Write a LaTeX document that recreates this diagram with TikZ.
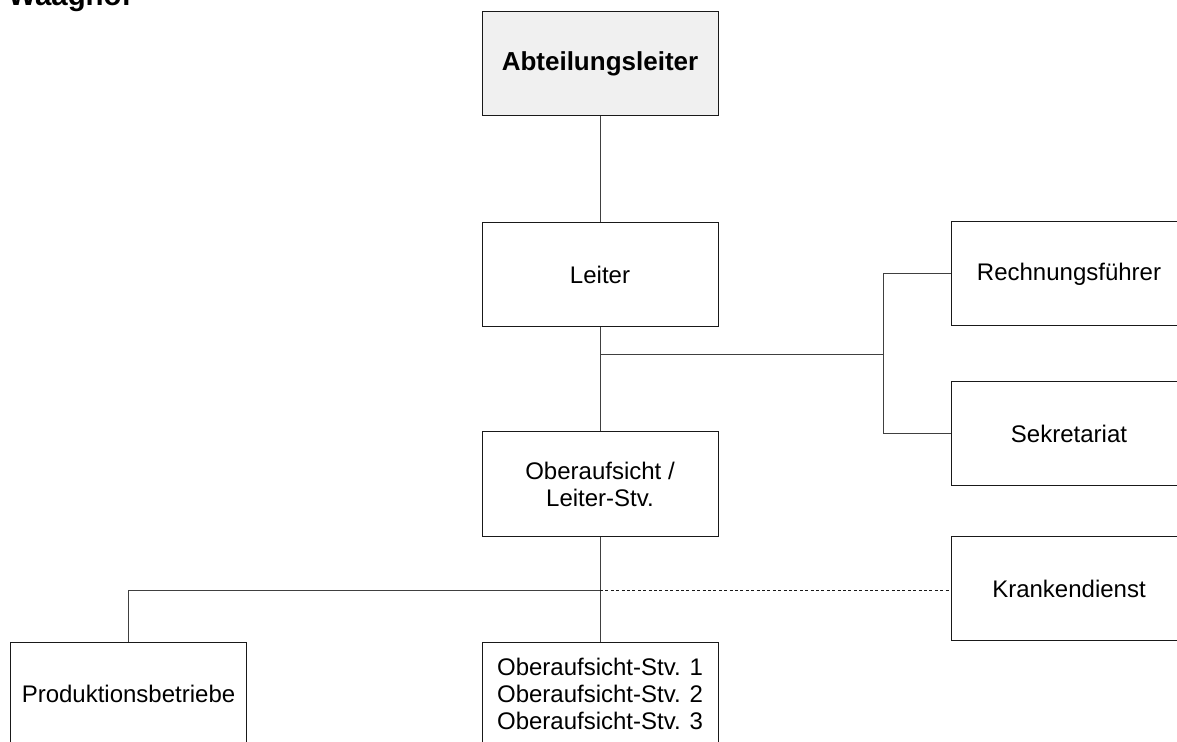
\documentclass[tikz,border=0pt]{standalone}
\usepackage{fontspec}
\setmainfont{Liberation Sans}
\usetikzlibrary{positioning, calc}

\begin{document}
\begin{tikzpicture}[x=0.5pt, y=-0.5pt,
    box/.style={draw=black!90, line width=0.5pt, minimum width=118pt, minimum height=52pt,
      inner sep=0pt, align=center, font=\fontsize{12}{13.5}\selectfont},
    topbox/.style={box, fill=black!6, font=\fontsize{13}{15}\selectfont\bfseries},
    link/.style={draw=black!75, line width=0.5pt},
    staff/.style={link, draw=black!90, dash pattern=on 1.5pt off 1.2pt}]

    % Page frame (picture is cut at the edges)
    \useasboundingbox (0,0) rectangle (1177,742);
    \clip (0,0) rectangle (1177,742);

    % Title
    \node[anchor=base west, inner sep=0pt, font=\fontsize{14.7}{16}\selectfont\bfseries] (title) at (8,6) {Waaghof};

    % Line of command
    \node[topbox] (chief) at (600,64) {Abteilungsleiter};
    \node[box] (head) at (600,274.5) {Leiter};
    \node[box] (deputy) at (600,484) {Oberaufsicht /\\Leiter-Stv.};
    \node[box, align=left] (subdeps) at (600,694) {Oberaufsicht-Stv. 1\\Oberaufsicht-Stv. 2\\Oberaufsicht-Stv. 3};

    % Staff units
    \node[box] (accounts) at (1069,274) {Rechnungsführer};
    \node[box] (office) at (1069,434) {Sekretariat};
    \node[box] (medical) at (1069,588.5) {Krankendienst};

    % Plants
    \node[box] (plants) at (128.5,694) {Produktionsbetriebe};

    % Junctions
    \coordinate (staffbus) at (883,355);
    \coordinate (headjoin) at (head.south |- staffbus);
    \coordinate (deputyjoin) at (600,590);

    % Connectors
    \draw[link] (chief) -- (head);
    \draw[link] (head) -- (deputy);
    \draw[link] (headjoin) -- (staffbus);
    \draw[link] (staffbus |- accounts) -- (accounts);
    \draw[link] (staffbus |- accounts) -- (staffbus |- office.west);
    \draw[link] (staffbus |- office.west) -- (office);
    \draw[link] (deputy) -- (subdeps);
    \draw[link] (deputyjoin) -| (plants);
    \draw[staff] (deputyjoin) -- (deputyjoin -| medical.west);

\end{tikzpicture}
\end{document}
